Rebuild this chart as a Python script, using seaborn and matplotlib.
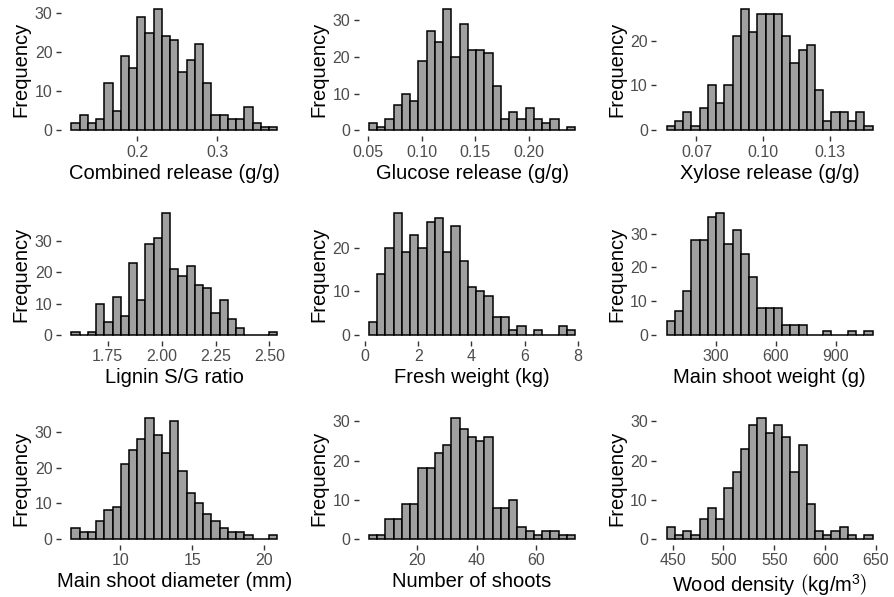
import numpy as np
import pandas as pd
import matplotlib
matplotlib.use("Agg")
import matplotlib.pyplot as plt
import seaborn as sns

# --- counts per bin (25 equal bins per panel) ---
combined_counts = [2, 4, 2, 3, 12, 5, 19, 16, 29, 25, 31, 24, 23, 15, 18, 22, 12, 4, 4, 3, 3, 6, 2, 1, 1]
glucose_counts = [2, 1, 3, 7, 10, 8, 19, 27, 24, 33, 20, 29, 22, 22, 21, 12, 3, 5, 3, 6, 3, 2, 3, 0, 1]
xylose_counts = [1, 2, 4, 1, 5, 10, 6, 10, 21, 27, 22, 26, 26, 26, 21, 15, 18, 19, 9, 2, 4, 4, 2, 4, 1]
lignin_counts = [1, 0, 1, 10, 4, 12, 6, 23, 11, 29, 31, 39, 21, 19, 22, 16, 15, 7, 11, 5, 2, 0, 0, 0, 1]
fresh_counts = [3, 14, 20, 28, 19, 23, 20, 26, 27, 19, 25, 17, 11, 10, 9, 4, 4, 1, 2, 0, 1, 0, 0, 2, 1]
shoot_wt_counts = [4, 7, 13, 28, 28, 35, 36, 27, 31, 24, 17, 8, 8, 8, 3, 3, 3, 0, 0, 1, 0, 0, 1, 0, 1]
diameter_counts = [3, 2, 2, 5, 8, 9, 21, 25, 28, 34, 29, 24, 33, 19, 13, 10, 7, 5, 3, 2, 2, 1, 0, 0, 1]
n_shoots_counts = [1, 1, 5, 5, 9, 9, 18, 18, 22, 24, 31, 28, 26, 25, 26, 8, 8, 10, 3, 2, 1, 2, 2, 1, 1]
density_counts = [3, 1, 2, 1, 5, 8, 5, 13, 17, 23, 29, 31, 27, 29, 26, 17, 24, 9, 2, 1, 2, 3, 1, 0, 1]

# bin range (first left edge, last right edge) of each histogram
combined_range = (0.118, 0.375)
glucose_range = (0.0505, 0.2435)
xylose_range = (0.0566, 0.149)
lignin_range = (1.581, 2.537)
fresh_range = (0.15, 7.90)
shoot_wt_range = (56, 1084)
diameter_range = (6.58, 20.93)
n_shoots_range = (3.9, 73.0)
density_range = (444.1, 646.7)

# tick positions / labels
combined_ticks = [0.2, 0.3]
glucose_ticks = [0.05, 0.10, 0.15, 0.20]
xylose_ticks = [0.07, 0.10, 0.13]
lignin_ticks = [1.75, 2.00, 2.25, 2.50]
fresh_ticks = [0, 2, 4, 6, 8]
shoot_wt_ticks = [300, 600, 900]
diameter_ticks = [10, 15, 20]
n_shoots_ticks = [20, 40, 60]
density_ticks = [450, 500, 550, 600, 650]

panels = [
    (combined_counts, combined_range, combined_ticks, "{:.1f}", "Combined release (g/g)"),
    (glucose_counts, glucose_range, glucose_ticks, "{:.2f}", "Glucose release (g/g)"),
    (xylose_counts, xylose_range, xylose_ticks, "{:.2f}", "Xylose release (g/g)"),
    (lignin_counts, lignin_range, lignin_ticks, "{:.2f}", "Lignin S/G ratio"),
    (fresh_counts, fresh_range, fresh_ticks, "{:d}", "Fresh weight (kg)"),
    (shoot_wt_counts, shoot_wt_range, shoot_wt_ticks, "{:d}", "Main shoot weight (g)"),
    (diameter_counts, diameter_range, diameter_ticks, "{:d}", "Main shoot diameter (mm)"),
    (n_shoots_counts, n_shoots_range, n_shoots_ticks, "{:d}", "Number of shoots"),
    (density_counts, density_range, density_ticks, "{:d}",
     r"Wood density $\left(\mathrm{kg/m^{3}}\right)$"),
]

sns.set_theme(style="ticks")
plt.rcParams["font.family"] = ["Liberation Sans", "DejaVu Sans"]
plt.rcParams["mathtext.fontset"] = "custom"
plt.rcParams["mathtext.rm"] = "Liberation Sans"
plt.rcParams["mathtext.it"] = "Liberation Sans:italic"

fig, axes = plt.subplots(3, 3, figsize=(8.94, 5.97), dpi=100)
fig.subplots_adjust(left=61 / 894, right=883 / 894, top=1 - 3 / 597,
                    bottom=1 - 545 / 597, wspace=0.313, hspace=0.53)

for ax, (counts, (lo, hi), ticks, fmt, label) in zip(axes.flat, panels):
    edges = np.linspace(lo, hi, len(counts) + 1)
    df = pd.DataFrame({"mid": (edges[:-1] + edges[1:]) / 2, "n": counts})
    # bins passed as a list (seaborn compares bins == "auto")
    sns.histplot(data=df, x="mid", weights="n", bins=edges.tolist(), ax=ax,
                 color="#A0A0A0", edgecolor="black", linewidth=1.1, alpha=1)

    # ggplot-like 5% expansion
    pad = (hi - lo) * 0.05
    ax.set_xlim(lo - pad, hi + pad)
    ymax = max(counts)
    ax.set_ylim(-0.05 * ymax, 1.05 * ymax)

    ax.set_xticks(ticks)
    ax.set_xticklabels([fmt.format(t) for t in ticks])
    ax.set_yticks(np.arange(0, ymax + 1, 10))

    ax.set_xlabel(label, fontsize=14.5, color="black", labelpad=3)
    ax.set_ylabel("Frequency", fontsize=14.5, color="black", labelpad=3)
    ax.tick_params(axis="both", labelsize=11.5, labelcolor="#4D4D4D",
                   color="#333333", length=3.5, width=1.0, pad=2.5)
    sns.despine(ax=ax, left=True, bottom=True)

plt.savefig("out.png", dpi=100)
